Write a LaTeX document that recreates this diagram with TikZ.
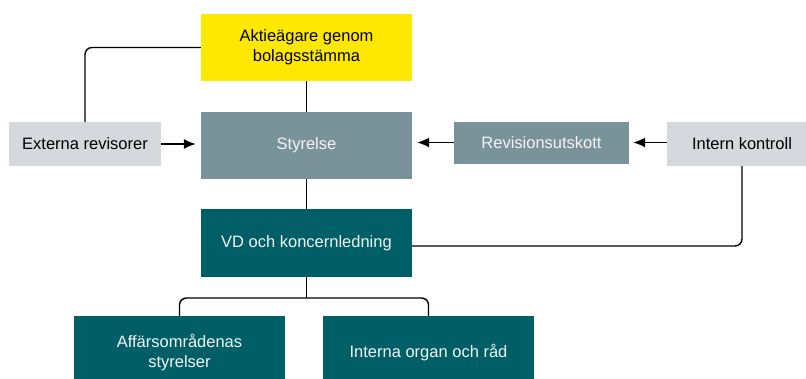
\documentclass[tikz,border=0pt]{standalone}
\usepackage{fontspec}
\setmainfont{Liberation Sans}
\usetikzlibrary{arrows.meta}
\definecolor{cyellow}{HTML}{FFE800}
\definecolor{cslate}{HTML}{7A939B}
\definecolor{clight}{HTML}{D5D8DD}
\definecolor{cteal}{HTML}{005E66}
\definecolor{cwhite}{HTML}{F2F4F4}
\tikzset{
  box/.style={draw=none, align=center, inner sep=0pt, font=\fontsize{16.5}{20}\selectfont},
  yellowbox/.style={box, fill=cyellow, text=black},
  slatebox/.style={box, fill=cslate, text=cwhite},
  lightbox/.style={box, fill=clight, text=black},
  tealbox/.style={box, fill=cteal, text=cwhite},
  conn/.style={line width=1.4pt, black},
  arr/.style={conn, -{Latex[length=12pt,width=10pt]}, shorten >=5pt},
}
\begin{document}
\begin{tikzpicture}[x=1pt,y=-1pt]
\useasboundingbox (0,0) rectangle (806,378);
\node[yellowbox, minimum width=211pt, minimum height=67pt] (aktie) at (306.5,47.5) {Aktieägare genom\\bolagsstämma};
\node[slatebox, minimum width=211pt, minimum height=67pt] (styr) at (306.5,145.5) {Styrelse};
\node[lightbox, minimum width=152pt, minimum height=44pt] (ext) at (85,144) {Externa revisorer};
\node[slatebox, minimum width=175pt, minimum height=42pt] (rev) at (541.5,142.5) {Revisionsutskott};
\node[lightbox, minimum width=150pt, minimum height=44pt] (intk) at (742,144) {Intern kontroll};
\node[tealbox, minimum width=211pt, minimum height=68pt] (vd) at (306.5,243) {VD och koncernledning};
\node[tealbox, minimum width=211pt, minimum height=74pt] (aff) at (179.5,353) {Affärsområdenas\\styrelser};
\node[tealbox, minimum width=211pt, minimum height=74pt] (int) at (428.5,353) {Interna organ och råd};
\coordinate (br) at (306.5,298);
% connectors
\draw[conn, rounded corners=7pt] (aktie.west) -| (ext.north);
\draw[conn] (aktie.south) -- (styr.north);
\draw[arr] (ext.east) -- (ext.east -| styr.west);
\draw[arr] (rev.west) -- (rev.west -| styr.east);
\draw[arr, shorten >=4pt] (intk.west |- rev.east) -- (rev.east);
\draw[conn, rounded corners=7pt] (intk.south) |- ([yshift=-3pt]vd.east);
\draw[conn] (styr.south) -- (vd.north);
\draw[conn] (vd.south) -- (br);
\draw[conn, rounded corners=7pt] (aff.north) |- (br) -| (int.north);
\end{tikzpicture}
\end{document}
